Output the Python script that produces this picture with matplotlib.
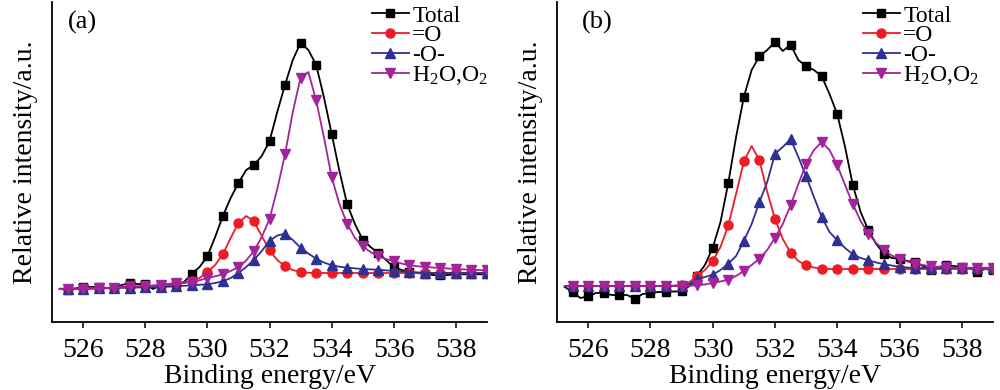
import numpy as np
import matplotlib
matplotlib.use("Agg")
import matplotlib.pyplot as plt

plt.rcParams['font.family'] = ['Liberation Serif', 'DejaVu Serif']
plt.rcParams['mathtext.fontset'] = 'custom'
plt.rcParams['mathtext.rm'] = 'Liberation Serif'
plt.rcParams['mathtext.it'] = 'Liberation Serif:italic'

# binding energy grid (eV), markers drawn every 0.5 eV
energy = np.arange(525.25, 539.01, 0.25)

# panel (a)
a_total = [33, 32.3, 33.5, 35, 35, 35, 34, 34.3, 37, 39, 38, 37.7, 33, 36.7, 37, 37.7,
           40, 48.3, 55, 65.7, 85, 106, 124, 139, 152, 157, 166, 180.7, 210, 237.3, 262, 279.3,
           272, 257.3, 225, 188.3, 151, 117.7, 98, 82.3, 75, 69, 62, 55, 52, 50,
           49, 48.3, 47, 46.7, 47, 47.7, 47.7, 47.7, 47.7, 47.7]
a_dbl = [33.3, 33.3, 33.5, 33.7, 33.8, 34, 34.2, 34.3, 34.6, 35, 35.3, 35.7, 36, 36.3, 37, 37.7,
         39, 40.7, 44, 50, 57, 67.7, 84, 99, 106, 100.7, 86, 71.7, 62, 55.7, 52, 50,
         49.3] + [49] * 23
a_sgl = [33, 33, 33.2, 33.3, 33.5, 33.7, 33.8, 34, 34.2, 34.3, 34.5, 34.7, 34.8, 35, 35.3, 35.7,
         36.2, 36.7, 37.2, 37.7, 39, 40.7, 44, 49, 55, 62.3, 71, 81, 86.5, 88.3, 82, 74.3,
         68.5, 63.3, 59.5, 56.7, 55.3, 54.3, 53.6, 53, 52.6, 52.3, 51.6, 51, 50.5, 50,
         49.6, 49.3, 49.1, 49, 49, 49, 49, 49, 49, 49]
a_h2o = [33, 33, 33, 33, 33.3, 33.7, 34, 34.3, 35, 35.7, 35.8, 36, 36.6, 37.3, 38.2, 39,
         39.5, 40, 41.7, 44, 45.7, 47.7, 51, 55, 61.5, 71, 85, 103, 133, 167.7, 210, 244.3,
         250, 221.7, 185, 145, 118, 98.3, 84, 75.7, 70, 65.7, 63, 61, 58.5, 56.7,
         55.8, 55, 54.5, 54, 53.5, 53, 52.6, 52.3, 52, 51.7]

# panel (b)
b_total = [35, 30, 24, 25.7, 29, 29.3, 27, 26.7, 27, 23.3, 28, 29, 30, 30, 30.5, 30.7,
           36, 46.3, 57, 74.3, 100, 139, 185, 225, 252, 265.7, 272, 280, 271, 277.3, 262, 255.7,
           252, 245.7, 228, 207.7, 175, 136.7, 110, 91.7, 78, 68.3, 64, 63.3, 61, 60,
           56, 52.3, 55, 56.7, 56, 55, 54, 50, 53, 51.7]
b_dbl = [36] * 14 + [36.3, 37, 40, 45.7, 52, 61, 75, 96.7, 128, 160.7, 176, 161.7, 130, 103.3,
                     83, 69.3, 61, 56.7, 54.5, 53.3, 53] + [53] * 21
b_sgl = [36] * 14 + [36.2, 36.5, 38, 42.7, 45, 47.3, 52, 58.3, 66, 81, 98, 120, 140, 168.3,
                     175, 183, 165, 145.7, 125, 105, 90, 81.7, 74, 67.7, 64, 61.7, 59.5, 57.7,
                     56.5, 55, 54.5, 54, 54] + [54] * 9
b_h2o = [36] * 16 + [36.2, 36.7, 37.5, 39, 40.5, 42.3, 46, 51, 57, 63.3, 72, 84.3, 98, 116.7,
                     138, 158.3, 172, 180, 172, 156.7, 137, 117.7, 101, 88.3, 79, 71.7, 66.5,
                     63.3, 60.5, 58.3, 57, 55.7, 55.3, 55, 54.5, 54.3, 54.3, 54.3, 54.3, 54.3]

labels = ['Total', '=O', '-O-', 'H$_2$O,O$_2$']
colors = ['black', '#ED1C24', '#2E3192', '#A3239A']
markers = ['s', 'o', '^', 'v']
msizes = [6, 6.5, 6.8, 6.8]

fig = plt.figure(figsize=(10, 3.9), dpi=100)
ax1 = fig.add_axes([0.052, 1 - 322 / 390, 0.435, 320 / 390])
ax2 = fig.add_axes([0.557, 1 - 322 / 390, 0.436, 320 / 390])

panels = [(ax1, [a_total, a_dbl, a_sgl, a_h2o], '(a)', 0.071, 0.736),
          (ax2, [b_total, b_dbl, b_sgl, b_h2o], '(b)', 0.092, 0.702)]

for ax, series, tag, tx, lx in panels:
    for y, lab, c, m, ms in zip(series, labels, colors, markers, msizes):
        ax.plot(energy, y, color=c, lw=1.3, marker=m, ms=ms, markevery=(1, 2), label=lab)
    ax.set_xlim(525, 539)
    ax.set_ylim(0, 320)
    ax.set_xticks([526, 528, 530, 532, 534, 536, 538])
    ax.set_yticks([])
    ax.tick_params(axis='x', direction='out', length=4.5, width=1.1, pad=7, labelsize=20)
    for s in ['top', 'right']:
        ax.spines[s].set_visible(False)
    for s in ['left', 'bottom']:
        ax.spines[s].set_linewidth(1.3)
    ax.set_xlabel('Binding energy/eV', fontsize=20)
    ax.xaxis.set_label_coords(0.5, -0.13)
    ax.set_ylabel('Relative intensity/a.u.', fontsize=20)
    ax.yaxis.set_label_coords(-0.033, 0.5)
    ax.text(tx, 0.9375, tag, transform=ax.transAxes, fontsize=19, ha='center', va='center')
    ax.legend(loc='upper left', bbox_to_anchor=(lx, 0.99), frameon=False, fontsize=17,
              handlelength=1.55, handletextpad=0.15, labelspacing=-0.08,
              borderpad=0, borderaxespad=0)

fig.savefig('out.png', dpi=100)
